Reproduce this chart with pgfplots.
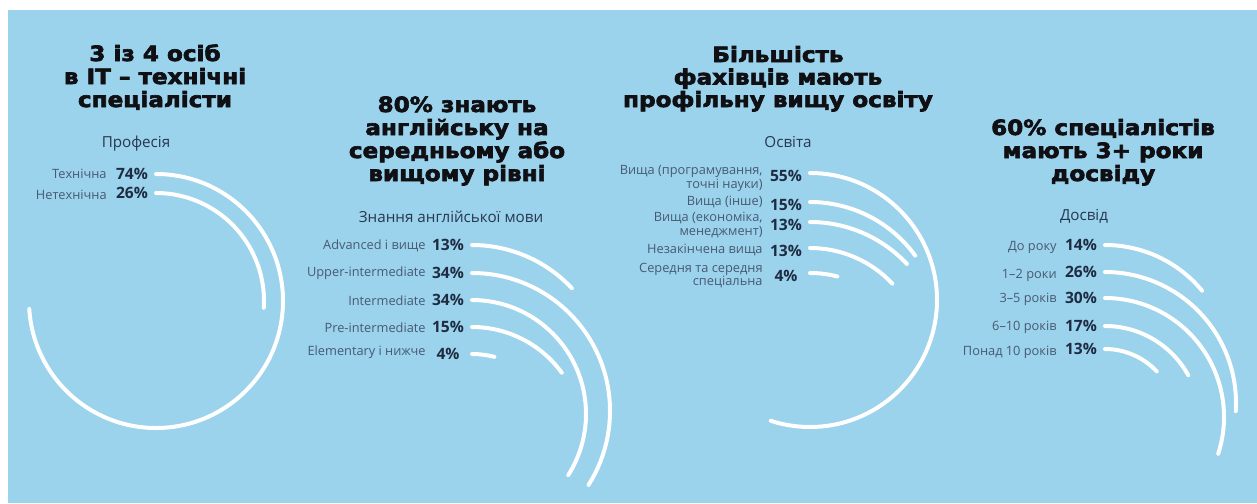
\documentclass[border=0pt]{standalone}
\usepackage{pgfplots}
\pgfplotsset{compat=1.18}
\usepackage{pgfplotstable}
\usepackage{fontspec}
\setmainfont{Open Sans}
\newfontfamily\titlefont{DejaVu Sans Bold}[FakeBold=3, FakeStretch=1.1]
\definecolor{bg}{RGB}{155,210,236}
\definecolor{lbl}{RGB}{72,90,115}
\definecolor{pct}{RGB}{30,44,66}
\definecolor{subc}{RGB}{40,55,80}
\definecolor{ttl}{RGB}{15,15,20}

\pgfdeclareplotmark{ringarc}{%
  \pgfmathsetmacro\ringend{90-3.6*\ringv}%
  \pgfmathsetlengthmacro\ringrad{0.5pt*\ringr}%
  \pgfsetstrokecolor{white}%
  \pgfsetlinewidth{2pt}%
  \pgfsetroundcap
  \pgfpathmoveto{\pgfpointorigin}%
  \pgfpatharc{90}{\ringend}{\ringrad}%
  \pgfusepathqstroke}

% x,y: start of the arc (top of its circle), r: radius (px), v: value (%)
\pgfplotstableread{
x y r v
156 174 127 74
156 193 108 26
}\prof
\pgfplotstableread{
x y r v
472 245 137 13
472 273 138 34
472 300 114 34
472 327 111 15
472 354 90 4
}\eng
\pgfplotstableread{
x y r v
810 173 127 55
810 202 130 15
810 222 133 13
810 248 113 13
810 273 110 4
}\edu
\pgfplotstableread{
x y r v
1105 245 126 14
1105 272 131 26
1105 298 119 30
1105 326 95 17
1105 349 71 13
}\exper

\pgfplotsset{ringplot/.style={
  scatter, only marks, mark=ringarc,
  scatter/use mapped color={draw=white,fill=white},
  visualization depends on={\thisrow{r} \as \ringr},
  visualization depends on={\thisrow{v} \as \ringv},
  point meta=\thisrow{v},
  nodes near coords={\pgfmathprintnumber[assume math mode=true]{\pgfplotspointmeta}\%},
  every node near coord/.style={anchor=center, xshift=-12pt,
    font=\bfseries\fontsize{7.8}{9}\selectfont, text=pct, inner sep=0pt},
}}
\tikzset{
  ttlnode/.style={anchor=base, inner sep=0pt, text=ttl, font=\titlefont\fontsize{10.5}{12}\selectfont},
  subnode/.style={anchor=base, inner sep=0pt, text=subc, font=\fontsize{7.6}{9}\selectfont},
  lblnode/.style={anchor=east, inner sep=0pt, text=lbl, align=right, font=\fontsize{6.4}{6.8}\selectfont},
}

\begin{document}
\begin{tikzpicture}
\begin{axis}[x=0.5pt, y=0.5pt, y dir=reverse, xmin=0, xmax=1257, ymin=0, ymax=503,
  hide axis, clip=false, scale only axis]
\fill[white] (axis cs:0,0) rectangle (axis cs:1257,503);
\fill[bg] (axis cs:8,10) rectangle (axis cs:1257,503);

\addplot[ringplot] table[x=x,y=y] {\prof};
\addplot[ringplot] table[x=x,y=y] {\eng};
\addplot[ringplot, every node near coord/.append style={yshift=-1.5pt}] table[x=x,y=y] {\edu};
\addplot[ringplot] table[x=x,y=y] {\exper};

% titles
\node[ttlnode] at (axis cs:155,61) {3 із 4 осіб};
\node[ttlnode] at (axis cs:155,84) {в IT – технічні};
\node[ttlnode] at (axis cs:155,107) {спеціалісти};

\node[ttlnode] at (axis cs:457,112) {80\% знають};
\node[ttlnode] at (axis cs:457,135) {англійську на};
\node[ttlnode] at (axis cs:457,158) {середньому або};
\node[ttlnode] at (axis cs:457,181) {вищому рівні};

\node[ttlnode] at (axis cs:778,62) {Більшість};
\node[ttlnode] at (axis cs:778,84.5) {фахівців мають};
\node[ttlnode] at (axis cs:778,107) {профільну вищу освіту};

\node[ttlnode] at (axis cs:1103,135) {60\% спеціалістів};
\node[ttlnode] at (axis cs:1103,158) {мають 3+ роки};
\node[ttlnode] at (axis cs:1103,181) {досвіду};

% subtitles
\node[subnode] at (axis cs:136,147) {Професія};
\node[subnode] at (axis cs:451,222) {Знання англійської мови};
\node[subnode] at (axis cs:788,147) {Освіта};
\node[subnode] at (axis cs:1084,220) {Досвід};

% category labels
\node[lblnode] at (axis cs:107,174) {Технічна};
\node[lblnode] at (axis cs:107,195) {Нетехнічна};

\node[lblnode] at (axis cs:426,246) {Advanced і вище};
\node[lblnode] at (axis cs:426,273) {Upper-intermediate};
\node[lblnode] at (axis cs:426,301) {Intermediate};
\node[lblnode] at (axis cs:426,328) {Pre-intermediate};
\node[lblnode] at (axis cs:426,352) {Elementary і нижче};

\node[lblnode] at (axis cs:763,178.5) {Вища (програмування,\\точні науки)};
\node[lblnode] at (axis cs:763,202) {Вища (інше)};
\node[lblnode] at (axis cs:763,225) {Вища (економіка,\\менеджмент)};
\node[lblnode] at (axis cs:763,250) {Незакінчена вища};
\node[lblnode] at (axis cs:763,275.5) {Середня та середня\\спеціальна};

\node[lblnode] at (axis cs:1057,247) {До року};
\node[lblnode] at (axis cs:1057,275) {1–2 роки};
\node[lblnode] at (axis cs:1057,299) {3–5 років};
\node[lblnode] at (axis cs:1057,327) {6–10 років};
\node[lblnode] at (axis cs:1057,352) {Понад 10 років};
\end{axis}
\end{tikzpicture}
\end{document}
